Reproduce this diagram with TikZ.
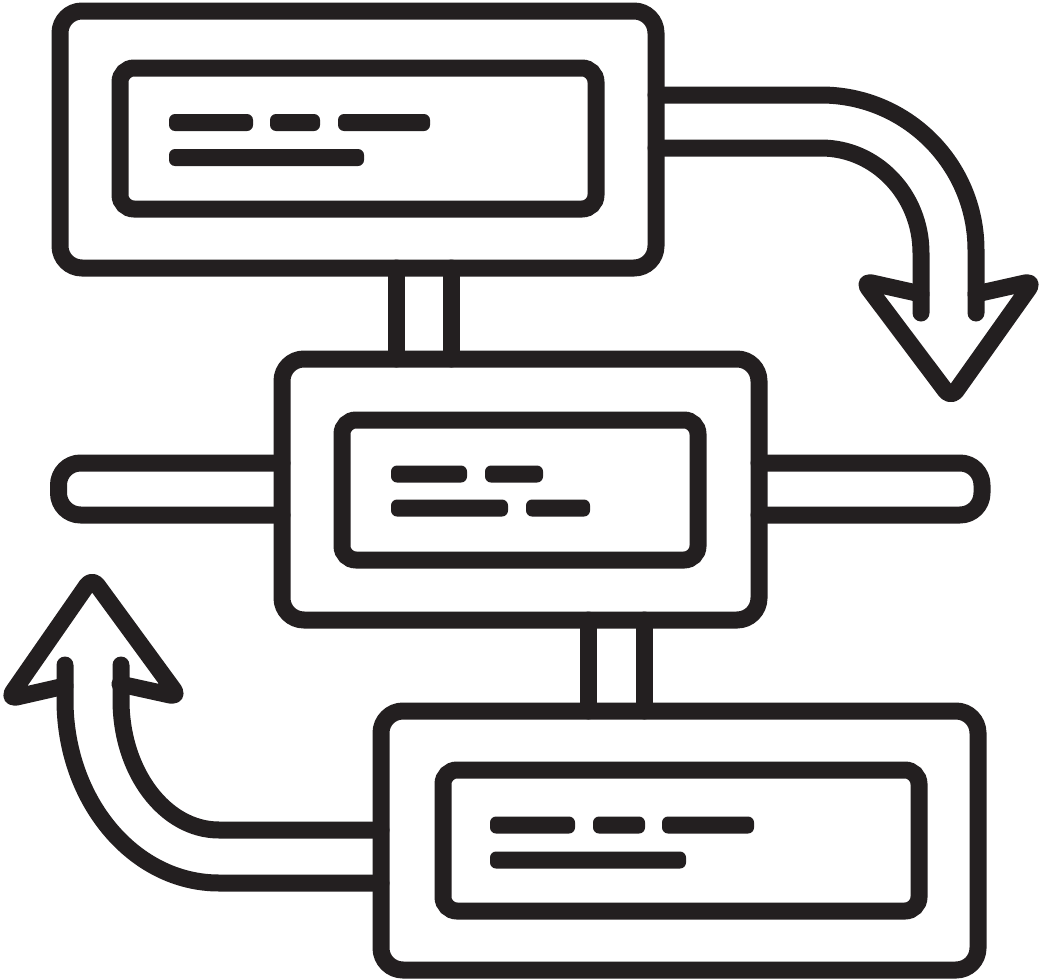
\documentclass[tikz,border=0pt]{standalone}
\usetikzlibrary{calc}
\definecolor{ink}{RGB}{35,31,32}
\begin{document}
\begin{tikzpicture}[x=1pt,y=-1pt,
  bigbox/.style={draw=ink, line width=17pt, rounded corners=22pt, inner sep=0pt, outer sep=0pt},
  smallbox/.style={draw=ink, line width=17pt, rounded corners=14pt, inner sep=0pt, outer sep=0pt},
  bar/.style={fill=ink, draw=none, rounded corners=6pt},
  link/.style={draw=ink, line width=17pt, line cap=round, line join=round},
  head/.style={draw=ink, line width=17pt, line cap=round, line join=round, rounded corners=9pt}]
\useasboundingbox (0,0) rectangle (1042,980);

% main boxes
\node[bigbox, minimum width=596pt, minimum height=257pt] (top) at (358,139.5) {};
\node[bigbox, minimum width=477pt, minimum height=261pt] (mid) at (520.5,489.5) {};
\node[bigbox, minimum width=597pt, minimum height=259pt] (bot) at (679.5,840.5) {};

% inner boxes
\node[smallbox, minimum width=476pt, minimum height=141pt] (topin) at (358,138.5) {};
\node[smallbox, minimum width=356pt, minimum height=140pt] (midin) at (520,490) {};
\node[smallbox, minimum width=476pt, minimum height=141pt] (botin) at (681,840.5) {};

% text bars
\fill[bar] (169,114) rectangle (253,131);
\fill[bar] (270,114) rectangle (320,131);
\fill[bar] (338,114) rectangle (430,131);
\fill[bar] (169,149) rectangle (364,166);

\fill[bar] (391,465.5) rectangle (467,482.5);
\fill[bar] (485,465.5) rectangle (543,482.5);
\fill[bar] (391,499.5) rectangle (508,516.5);
\fill[bar] (526,499.5) rectangle (590,516.5);

\fill[bar] (490,816.5) rectangle (575,833.5);
\fill[bar] (593,816.5) rectangle (645,833.5);
\fill[bar] (662,816.5) rectangle (754,833.5);
\fill[bar] (490,851.5) rectangle (686,868.5);

% vertical connectors
\draw[link] (396,0 |- top.south) -- (396,0 |- mid.north);
\draw[link] (451,0 |- top.south) -- (451,0 |- mid.north);
\draw[link] (588,0 |- mid.south) -- (588,0 |- bot.north);
\draw[link] (644,0 |- mid.south) -- (644,0 |- bot.north);

% side bars of the middle box
\draw[link, rounded corners=22pt] (mid.west |- 0,463) -- (58.5,463) -- (58.5,515) -- (mid.west |- 0,515);
\draw[link, rounded corners=22pt] (mid.east |- 0,463) -- (982,463) -- (982,515) -- (mid.east |- 0,515);

% top right curved arrow
\coordinate (aend1) at (976,313);
\coordinate (aend2) at (921,313);
\draw[link] (top.east |- 0,95) -- (821,95) .. controls (906.6,95) and (976,164.4) .. (976,250) -- (aend1);
\draw[link] (top.east |- 0,148) -- (821,148) .. controls (876.2,148) and (921,195) .. (921,253) -- (aend2);
\draw[head] (921,294) -- (863,281) -- (951,398) -- (1034,281) -- (976,294);

% bottom left curved arrow
\coordinate (bend1) at (121,665);
\coordinate (bend2) at (65,665);
\draw[link] (bot.west |- 0,830) -- (219,830) .. controls (164.9,830) and (121,771.8) .. (121,700) -- (bend1);
\draw[link] (bot.west |- 0,883) -- (219,883) .. controls (133.9,883) and (65,801.1) .. (65,700) -- (bend2);
\draw[head] (65,686) -- (8,699) -- (92,578) -- (179,697) -- (120,684);
\end{tikzpicture}
\end{document}
